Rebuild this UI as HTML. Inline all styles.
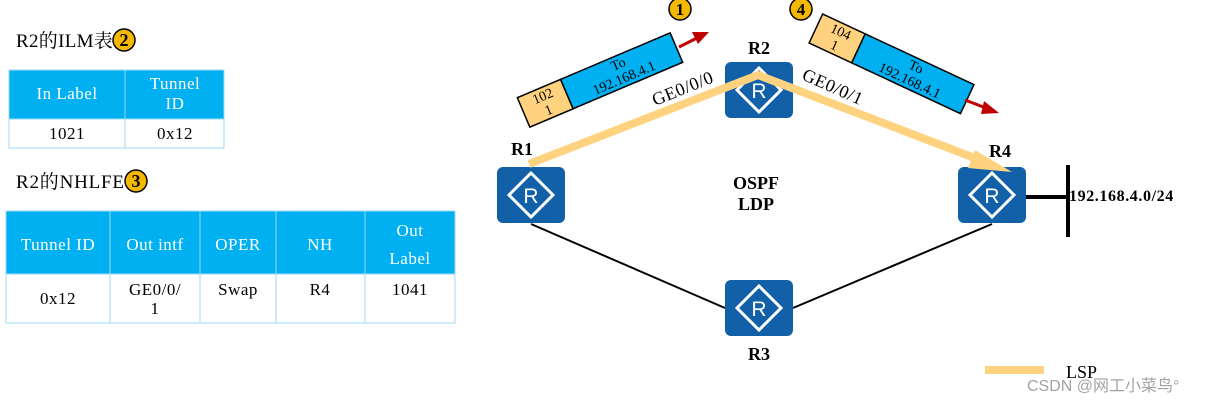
<!DOCTYPE html>
<html><head><meta charset="utf-8"><style>
html,body{margin:0;padding:0;background:#fff;}
svg{display:block;}
text{font-family:"Liberation Serif","Noto Serif CJK SC",serif;}
.h{fill:#fff;font-size:17px;text-anchor:middle;letter-spacing:0.5px;}
.c{fill:#000;font-size:17px;text-anchor:middle;letter-spacing:0.5px;}
.b{font-weight:bold;}
</style></head><body>
<svg width="1219" height="403" viewBox="0 0 1219 403" xmlns="http://www.w3.org/2000/svg">
<defs>
<g id="rt">
<rect x="0" y="0" width="68" height="56" rx="6" fill="#1160A8"/>
<polygon points="34,6 56,28 34,50 12,28" fill="none" stroke="#fff" stroke-width="3"/>
<text x="34" y="36" fill="#fff" font-size="21" text-anchor="middle" style="font-family:'Liberation Sans',sans-serif">R</text>
</g>
<g id="num"><circle r="11" fill="#F5B800" stroke="#000" stroke-width="1.5"/></g>
</defs>
<text x="16" y="47" font-size="19" style="letter-spacing:0.3px">R2的ILM表</text>
<use href="#num" x="124" y="40"/><text x="124" y="46" font-size="18" text-anchor="middle" class="b">2</text>
<text x="16" y="188" font-size="19" style="letter-spacing:0.8px">R2的NHLFE</text>
<use href="#num" x="136" y="181"/><text x="136" y="187" font-size="18" text-anchor="middle" class="b">3</text>
<rect x="9" y="70" width="215" height="49" fill="#00B0F0"/>
<rect x="9" y="70" width="215" height="78" fill="none" stroke="#9DD9F3" stroke-width="1"/>
<line x1="125" y1="70" x2="125" y2="148" stroke="#9DD9F3"/>
<line x1="9" y1="119" x2="224" y2="119" stroke="#9DD9F3"/>
<text class="h" x="67" y="99">In Label</text>
<text class="h" x="175" y="89">Tunnel</text><text class="h" x="175" y="109">ID</text>
<text class="c" x="67" y="139">1021</text><text class="c" x="175" y="139">0x12</text>
<rect x="6" y="211" width="449" height="63" fill="#00B0F0"/>
<rect x="6" y="211" width="449" height="112" fill="none" stroke="#9DD9F3"/>
<g stroke="#9DD9F3"><line x1="110" y1="211" x2="110" y2="323"/><line x1="200" y1="211" x2="200" y2="323"/><line x1="276" y1="211" x2="276" y2="323"/><line x1="365" y1="211" x2="365" y2="323"/><line x1="6" y1="274" x2="455" y2="274"/></g>
<text class="h" x="58" y="250">Tunnel ID</text>
<text class="h" x="155" y="250">Out intf</text>
<text class="h" x="238" y="250">OPER</text>
<text class="h" x="320" y="250">NH</text>
<text class="h" x="410" y="236">Out</text><text class="h" x="410" y="264">Label</text>
<text class="c" x="58" y="304">0x12</text>
<text class="c" x="155" y="295">GE0/0/</text><text class="c" x="155" y="314">1</text>
<text class="c" x="238" y="295">Swap</text>
<text class="c" x="320" y="295">R4</text>
<text class="c" x="410" y="295">1041</text>
<line x1="531" y1="224" x2="725" y2="308" stroke="#000" stroke-width="2"/>
<line x1="793" y1="308" x2="992" y2="224" stroke="#000" stroke-width="2"/>
<line x1="1026" y1="197" x2="1068" y2="197" stroke="#000" stroke-width="4"/>
<line x1="1068" y1="165" x2="1068" y2="237" stroke="#000" stroke-width="4"/>
<text x="1069" y="201" font-size="16" class="b" style="letter-spacing:0.6px">192.168.4.0/24</text>
<use href="#rt" x="497" y="167"/>
<use href="#rt" x="725" y="62"/>
<use href="#rt" x="958" y="167"/>
<use href="#rt" x="725" y="280"/>
<text x="522" y="155" font-size="18" class="b" text-anchor="middle">R1</text>
<text x="759" y="54" font-size="18" class="b" text-anchor="middle">R2</text>
<text x="1000" y="157" font-size="18" class="b" text-anchor="middle">R4</text>
<text x="759" y="360" font-size="18" class="b" text-anchor="middle">R3</text>
<text x="756" y="189" font-size="18" class="b" text-anchor="middle">OSPF</text>
<text x="756" y="210" font-size="18" class="b" text-anchor="middle">LDP</text>
<polyline points="529,164 758,75 985,162" fill="none" stroke="#FFD27F" stroke-width="8"/>
<polygon points="1012,172 975,150 968,168" fill="#FFD27F"/>
<g transform="translate(600,80) rotate(-23)">
<rect x="-83" y="-16" width="47" height="32" fill="#FFD27F" stroke="#000" stroke-width="1.5"/>
<rect x="-36" y="-16" width="119" height="32" fill="#00B0F0" stroke="#000" stroke-width="1.5"/>
<text x="-59" y="-3" font-size="14" text-anchor="middle">102</text><text x="-59" y="12" font-size="14" text-anchor="middle">1</text>
<text x="23" y="-3" font-size="14" text-anchor="middle">To</text><text x="23" y="12" font-size="14" text-anchor="middle">192.168.4.1</text>
</g>
<line x1="679" y1="47" x2="697" y2="38" stroke="#C00000" stroke-width="3"/>
<polygon points="709,32 692,32 698,44" fill="#C00000"/>
<g transform="translate(892,64) rotate(25)">
<rect x="-84" y="-16" width="47" height="32" fill="#FFD27F" stroke="#000" stroke-width="1.5"/>
<rect x="-37" y="-16" width="120" height="32" fill="#00B0F0" stroke="#000" stroke-width="1.5"/>
<text x="-60" y="-3" font-size="14" text-anchor="middle">104</text><text x="-60" y="12" font-size="14" text-anchor="middle">1</text>
<text x="23" y="-3" font-size="14" text-anchor="middle">To</text><text x="23" y="12" font-size="14" text-anchor="middle">192.168.4.1</text>
</g>
<line x1="965" y1="100" x2="986" y2="108" stroke="#C00000" stroke-width="3"/>
<polygon points="999,113 984,101 981,114" fill="#C00000"/>
<use href="#num" x="680" y="9"/><text x="680" y="15" font-size="17" text-anchor="middle" class="b">1</text>
<use href="#num" x="801" y="9"/><text x="801" y="15" font-size="17" text-anchor="middle" class="b">4</text>
<text x="0" y="0" font-size="18" style="letter-spacing:0.5px" transform="translate(655,106) rotate(-22)">GE0/0/0</text>
<text x="0" y="0" font-size="18" style="letter-spacing:0.5px" transform="translate(801,79) rotate(24)">GE0/0/1</text>
<line x1="985" y1="370" x2="1044" y2="370" stroke="#FFD27F" stroke-width="8"/>
<text x="1066" y="378" font-size="18">LSP</text>
<text x="1027" y="391" font-size="16" fill="#999" style="font-family:'Liberation Sans','Noto Sans CJK SC',sans-serif" opacity="0.9">CSDN @网工小菜鸟°</text>
</svg>
</body></html>
